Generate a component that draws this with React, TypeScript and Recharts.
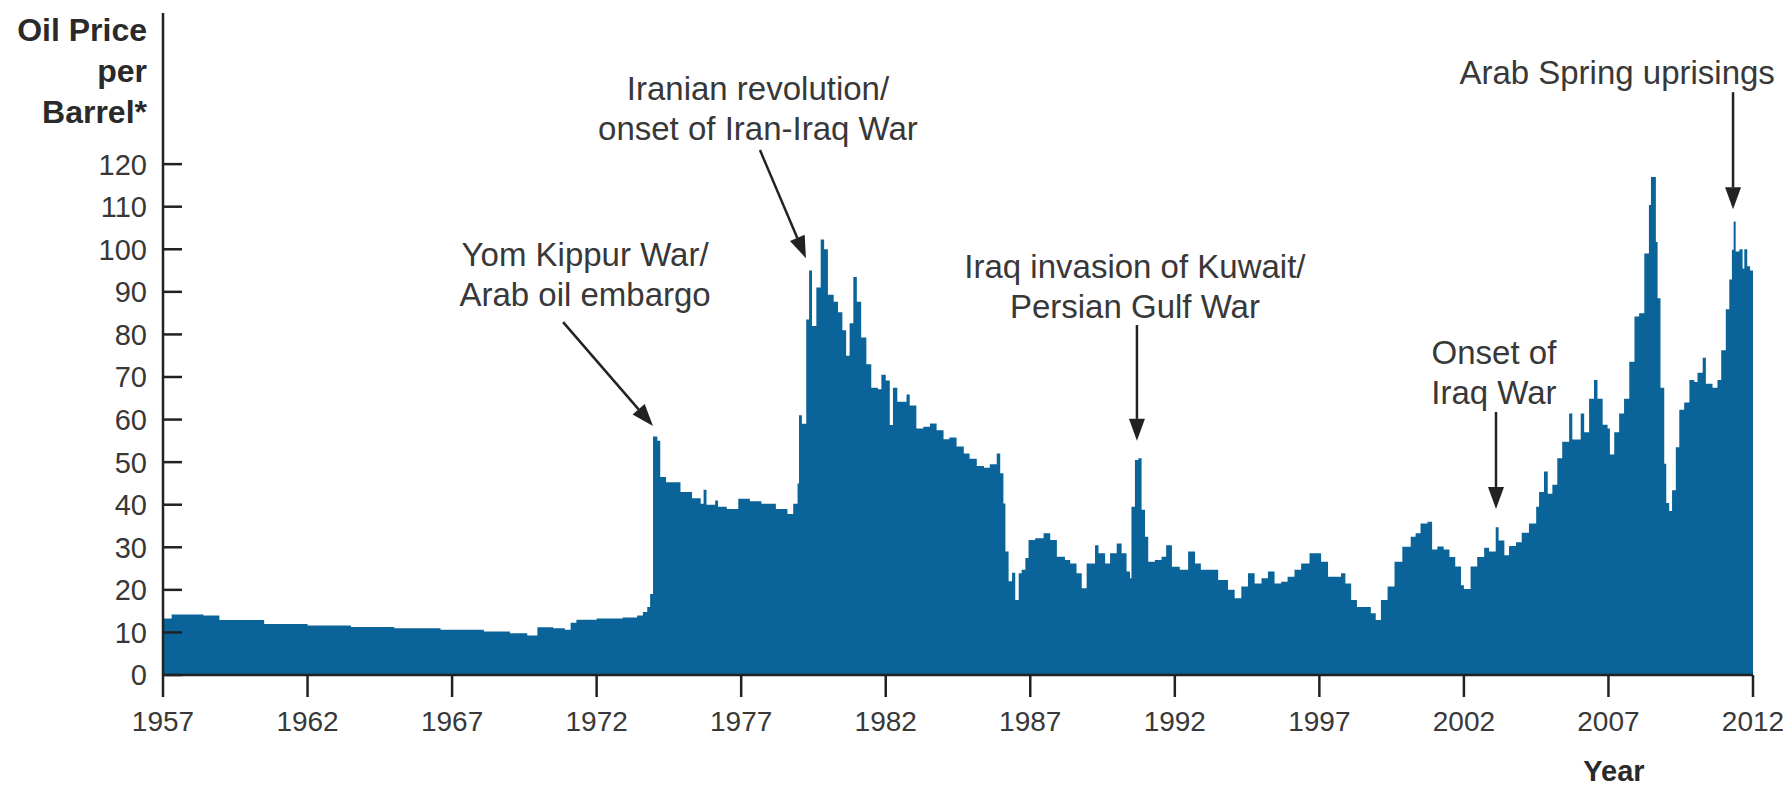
import { AreaChart, Area, XAxis, YAxis, ReferenceLine, ReferenceDot } from "recharts";

// decimal year of each reading, and the real price per barrel at that point
const months = [
  1957.0, 1957.3, 1958.4, 1958.95, 1960.5, 1962.0, 1963.5, 1965.0, 1966.6, 1968.1,
  1969.0, 1969.6, 1969.95, 1970.5, 1970.9, 1971.1, 1971.3, 1972.0, 1972.9, 1973.4,
  1973.6, 1973.75, 1973.85, 1973.95, 1974.1, 1974.2, 1974.4, 1974.9, 1975.3, 1975.6,
  1975.7, 1975.8, 1976.1, 1976.2, 1976.5, 1976.9, 1977.3, 1977.7, 1978.2, 1978.6,
  1978.8, 1978.95, 1979.0, 1979.1, 1979.25, 1979.35, 1979.45, 1979.6, 1979.75, 1979.87,
  1980.0, 1980.2, 1980.35, 1980.5, 1980.63, 1980.75, 1980.88, 1981.0, 1981.15, 1981.33,
  1981.5, 1981.73, 1981.85, 1982.0, 1982.14, 1982.25, 1982.4, 1982.72, 1982.83, 1983.06,
  1983.3, 1983.53, 1983.76, 1984.0, 1984.2, 1984.45, 1984.7, 1984.9, 1985.15, 1985.4,
  1985.6, 1985.84, 1985.96, 1986.07, 1986.14, 1986.25, 1986.37, 1986.48, 1986.6, 1986.7,
  1986.83, 1986.94, 1987.17, 1987.46, 1987.69, 1987.92, 1988.2, 1988.38, 1988.6, 1988.78,
  1988.95, 1989.24, 1989.36, 1989.59, 1989.76, 1989.99, 1990.16, 1990.33, 1990.45, 1990.5,
  1990.62, 1990.74, 1990.85, 1990.97, 1991.08, 1991.31, 1991.54, 1991.7, 1991.9, 1992.17,
  1992.46, 1992.7, 1992.9, 1993.15, 1993.5, 1993.84, 1994.07, 1994.3, 1994.53, 1994.76,
  1995.0, 1995.22, 1995.45, 1995.68, 1995.9, 1996.14, 1996.37, 1996.66, 1996.9, 1997.06,
  1997.3, 1997.5, 1997.75, 1997.9, 1998.1, 1998.3, 1998.55, 1998.78, 1998.95, 1999.13,
  1999.36, 1999.6, 1999.87, 2000.16, 2000.33, 2000.5, 2000.74, 2000.9, 2001.08, 2001.3,
  2001.5, 2001.7, 2001.9, 2002.0, 2002.23, 2002.46, 2002.7, 2002.87, 2003.1, 2003.2,
  2003.4, 2003.56, 2003.8, 2004.0, 2004.25, 2004.5, 2004.6, 2004.77, 2004.9, 2005.06,
  2005.23, 2005.4, 2005.64, 2005.75, 2006.04, 2006.16, 2006.33, 2006.5, 2006.62, 2006.8,
  2006.97, 2007.05, 2007.2, 2007.37, 2007.54, 2007.72, 2007.9, 2008.06, 2008.24, 2008.4,
  2008.47, 2008.64, 2008.7, 2008.8, 2008.93, 2009.0, 2009.1, 2009.2, 2009.33, 2009.45,
  2009.62, 2009.8, 2009.97, 2010.08, 2010.26, 2010.37, 2010.6, 2010.77, 2010.9, 2011.06,
  2011.18, 2011.27, 2011.33, 2011.4, 2011.53, 2011.64, 2011.7, 2011.8, 2011.9, 2012.0,
];

const prices = [
  13.3, 14.2, 14.0, 12.9, 12.0, 11.6, 11.3, 11.0, 10.6, 10.2,
  9.8, 9.3, 11.2, 11.0, 10.6, 12.3, 13.0, 13.3, 13.5, 14.0,
  14.8, 16.0, 19.0, 56.0, 55.0, 46.5, 45.3, 43.0, 41.5, 40.2,
  43.5, 40.0, 41.0, 39.5, 39.0, 41.4, 40.8, 40.2, 39.0, 37.8,
  40.2, 45.0, 61.0, 59.0, 83.5, 95.0, 82.0, 91.0, 102.3, 100.0,
  89.3, 87.7, 85.2, 81.0, 75.0, 82.6, 93.5, 87.7, 79.3, 73.0,
  67.5, 67.1, 70.5, 69.2, 58.7, 67.5, 64.2, 65.9, 63.3, 57.9,
  58.3, 59.1, 57.5, 55.4, 55.8, 53.7, 52.0, 50.8, 49.1, 48.7,
  49.5, 52.0, 47.4, 40.3, 29.0, 22.0, 24.0, 17.6, 23.9, 24.7,
  27.5, 31.7, 32.1, 33.3, 31.7, 27.8, 27.0, 26.2, 23.9, 20.4,
  26.2, 30.5, 28.6, 26.2, 28.6, 30.9, 28.6, 24.3, 22.7, 39.5,
  50.5, 50.9, 38.8, 32.5, 26.6, 27.0, 27.8, 30.5, 25.4, 24.7,
  29.0, 26.2, 24.7, 24.7, 22.3, 20.0, 18.0, 20.8, 23.9, 21.5,
  22.7, 24.3, 21.5, 21.9, 23.1, 24.7, 26.2, 28.6, 28.6, 26.6,
  23.1, 23.1, 23.9, 21.5, 17.6, 16.0, 16.0, 14.5, 12.9, 17.6,
  20.8, 26.6, 30.1, 32.5, 33.3, 35.6, 36.0, 29.5, 30.2, 29.5,
  27.7, 25.5, 21.1, 20.2, 25.5, 27.7, 29.9, 29.0, 34.7, 31.6,
  28.1, 30.3, 31.2, 33.4, 35.6, 39.5, 43.0, 47.8, 42.6, 44.7,
  50.9, 54.8, 61.4, 55.3, 61.4, 57.0, 64.9, 69.3, 64.9, 58.8,
  57.9, 51.8, 57.0, 61.4, 64.9, 73.6, 84.2, 85.0, 99.0, 110.4,
  117.0, 101.7, 88.5, 67.5, 49.6, 40.4, 38.5, 43.4, 53.5, 62.3,
  64.0, 69.3, 68.8, 71.0, 74.5, 68.4, 67.5, 69.3, 76.3, 85.9,
  92.9, 99.9, 106.5, 99.5, 100.0, 95.5, 100.0, 96.0, 95.0, 95.0,
];

const yearTicks = [1957, 1962, 1967, 1972, 1977, 1982, 1987, 1992, 1997, 2002, 2007, 2012];
const priceTicks = [0, 10, 20, 30, 40, 50, 60, 70, 80, 90, 100, 110, 120];

// event notes: text lines, where the last line sits, and the arrow (year, price)
const noteLines = [
  ["Yom Kippur War/", "Arab oil embargo"],
  ["Iranian revolution/", "onset of Iran-Iraq War"],
  ["Iraq invasion of Kuwait/", "Persian Gulf War"],
  ["Onset of", "Iraq War"],
  ["Arab Spring uprisings"],
];
const noteAt = [
  [1971.6, 89.5],
  [1977.58, 128.5],
  [1990.62, 86.7],
  [2003.04, 66.5],
  [2007.3, 141.6],
];
const arrowFrom = [
  [1970.84, 82.9],
  [1977.65, 123.3],
  [1990.69, 82.2],
  [2003.11, 61.8],
  [2011.31, 136.9],
];
const arrowTo = [
  [1973.95, 58.5],
  [1979.24, 97.9],
  [1990.69, 55.0],
  [2003.11, 39.0],
  [2011.31, 109.4],
];

const data = months.map((t, i) => ({ t, price: prices[i] }));

const BLUE = "#0a6499";
const AXIS = "#222";
const INK = "#383838";
const FONT = "'Liberation Sans', Arial, Helvetica, sans-serif";

function PriceTick(props: any) {
  const { x, y, payload } = props;
  return (
    <g>
      <line x1={x} y1={y} x2={x + 19} y2={y} stroke={AXIS} strokeWidth={2.5} />
      <text x={x - 16} y={y} dy="0.36em" textAnchor="end" fontSize={29} fill={INK} fontFamily={FONT}>
        {payload.value}
      </text>
    </g>
  );
}

function Arrow(props: any) {
  const { x1, y1, x2, y2 } = props;
  const a = Math.atan2(y2 - y1, x2 - x1);
  const len = 22;
  const half = 8;
  const bx = x2 - len * Math.cos(a);
  const by = y2 - len * Math.sin(a);
  const px = -Math.sin(a) * half;
  const py = Math.cos(a) * half;
  return (
    <g>
      <line x1={x1} y1={y1} x2={bx} y2={by} stroke={AXIS} strokeWidth={2.5} />
      <polygon points={`${x2},${y2} ${bx + px},${by + py} ${bx - px},${by - py}`} fill={AXIS} />
    </g>
  );
}

function NoteText({ cx, cy, lines }: { cx: number; cy: number; lines: string[] }) {
  return (
    <g>
      {lines.map((s, i) => (
        <text
          key={s}
          x={cx}
          y={cy - (lines.length - 1 - i) * 40}
          dy="0.36em"
          textAnchor="middle"
          fontSize={33}
          fill={INK}
          fontFamily={FONT}
        >
          {s}
        </text>
      ))}
    </g>
  );
}

function PriceTitle(props: any) {
  const vb = props.viewBox;
  const right = vb.x + vb.width - 16;
  return (
    <g fontFamily={FONT} fontSize={32} fontWeight="bold" fill="#2a2a2a" textAnchor="end">
      <text x={right} y={29} dy="0.36em">Oil Price</text>
      <text x={right} y={70} dy="0.36em">per</text>
      <text x={right} y={111} dy="0.36em">Barrel*</text>
    </g>
  );
}

function YearTitle(props: any) {
  const vb = props.viewBox;
  return (
    <text
      x={vb.x + vb.width - 139}
      y={vb.y + 96}
      dy="0.36em"
      textAnchor="middle"
      fontFamily={FONT}
      fontSize={29}
      fontWeight="bold"
      fill="#2a2a2a"
    >
      Year
    </text>
  );
}

export default function App() {
  return (
    <div style={{ position: "absolute", left: 0, top: 0, width: 1791, height: 786, background: "#fff" }}>
      <AreaChart width={1791} height={786} data={data} margin={{ top: 13, right: 38, bottom: 51, left: 0 }}>
        <Area
          type="stepAfter"
          dataKey="price"
          stroke="none"
          fill={BLUE}
          fillOpacity={1}
          dot={false}
          activeDot={false}
          isAnimationActive={false}
        />
        {noteLines.map((lines, i) => (
          <ReferenceLine
            key={"a" + i}
            segment={[
              { x: arrowFrom[i][0], y: arrowFrom[i][1] },
              { x: arrowTo[i][0], y: arrowTo[i][1] },
            ]}
            ifOverflow="visible"
            shape={(p: any) => <Arrow {...p} />}
          />
        ))}
        {noteLines.map((lines, i) => (
          <ReferenceDot
            key={"n" + i}
            x={noteAt[i][0]}
            y={noteAt[i][1]}
            r={0}
            ifOverflow="visible"
            shape={(p: any) => <NoteText cx={p.cx} cy={p.cy} lines={lines} />}
          />
        ))}
        <XAxis
          dataKey="t"
          type="number"
          domain={[1957, 2012]}
          ticks={yearTicks}
          interval={0}
          height={60}
          tickSize={22}
          tickMargin={14}
          axisLine={{ stroke: AXIS, strokeWidth: 2.5 }}
          tickLine={{ stroke: AXIS, strokeWidth: 2.5 }}
          tick={{ fill: INK, fontSize: 28, fontFamily: FONT }}
          label={<YearTitle />}
        />
        <YAxis
          type="number"
          domain={[0, 155.5]}
          ticks={priceTicks}
          interval={0}
          width={163}
          tickSize={0}
          tickMargin={0}
          tickLine={false}
          axisLine={{ stroke: AXIS, strokeWidth: 2.5 }}
          tick={<PriceTick />}
          label={<PriceTitle />}
        />
      </AreaChart>
    </div>
  );
}
